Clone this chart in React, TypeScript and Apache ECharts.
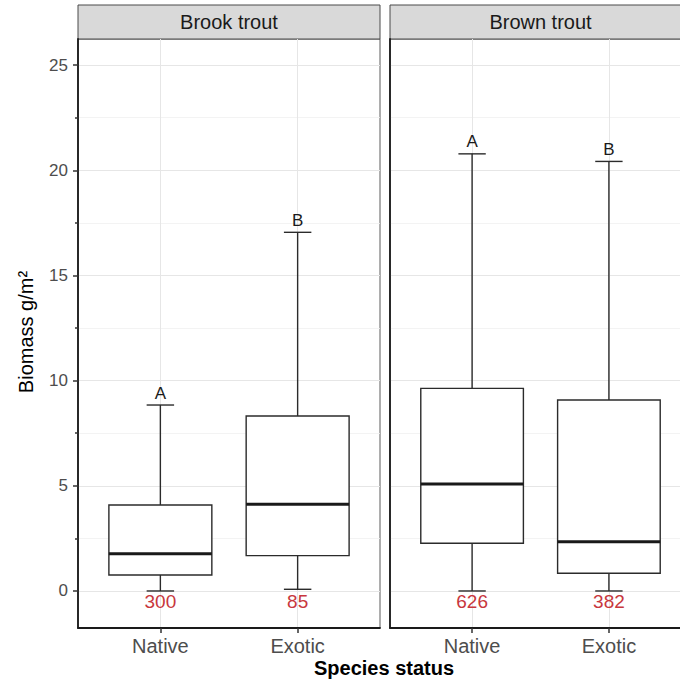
import React, { useEffect, useRef } from "react";
import * as echarts from "echarts";

// Categories on the x axis (positions 1 and 2 on a continuous scale)
const categories = ["Native", "Exotic"];
const panels = ["Brook trout", "Brown trout"];

// Box statistics per panel: [min, Q1, median, Q3, max] (biomass, g/m²)
const brookStats = [
  [0, 0.76, 1.77, 4.09, 8.84],
  [0.08, 1.68, 4.12, 8.32, 17.05],
];
const brownStats = [
  [0, 2.27, 5.09, 9.63, 20.78],
  [0, 0.84, 2.34, 9.08, 20.42],
];

// Group letters above the whiskers and sample sizes below the boxes
const brookLetters = ["A", "B"];
const brownLetters = ["A", "B"];
const brookCounts = [300, 85];
const brownCounts = [626, 382];

// Axis ticks
const yTicks = [0, 5, 10, 15, 20, 25];
const xTicks = [1, 2];
const countY = -0.5;

const FONT = "'Liberation Sans', Arial, Helvetica, sans-serif";

function makeRenderItem(letters: string[], counts: number[]) {
  return (params: any, api: any) => {
    const x = api.value(0);
    const lo = api.value(1);
    const q1 = api.value(2);
    const med = api.value(3);
    const q3 = api.value(4);
    const hi = api.value(5);
    const pLo = api.coord([x, lo]);
    const pQ1 = api.coord([x, q1]);
    const pMed = api.coord([x, med]);
    const pQ3 = api.coord([x, q3]);
    const pHi = api.coord([x, hi]);
    const pCount = api.coord([x, countY]);
    const boxW = api.size([0.75, 0])[0];
    const capW = api.size([0.2, 0])[0];
    const cx = pMed[0];
    const stroke = { stroke: "#2b2b2b", lineWidth: 1.4, fill: null };
    return {
      type: "group",
      children: [
        { type: "line", shape: { x1: cx, y1: pQ3[1], x2: cx, y2: pHi[1] }, style: stroke },
        { type: "line", shape: { x1: cx, y1: pLo[1], x2: cx, y2: pQ1[1] }, style: stroke },
        { type: "line", shape: { x1: cx - capW / 2, y1: pHi[1], x2: cx + capW / 2, y2: pHi[1] }, style: stroke },
        { type: "line", shape: { x1: cx - capW / 2, y1: pLo[1], x2: cx + capW / 2, y2: pLo[1] }, style: stroke },
        {
          type: "rect",
          shape: { x: cx - boxW / 2, y: pQ3[1], width: boxW, height: pQ1[1] - pQ3[1] },
          style: { stroke: "#2b2b2b", lineWidth: 1.4, fill: "#ffffff" },
        },
        {
          type: "line",
          shape: { x1: cx - boxW / 2, y1: pMed[1], x2: cx + boxW / 2, y2: pMed[1] },
          style: { stroke: "#1a1a1a", lineWidth: 3 },
        },
        {
          type: "text",
          x: cx,
          y: pHi[1] - 12,
          style: {
            text: letters[params.dataIndex],
            fontSize: 17,
            fontFamily: FONT,
            fill: "#1a1a1a",
            align: "center",
            verticalAlign: "middle",
          },
        },
        {
          type: "text",
          x: cx,
          y: pCount[1],
          style: {
            text: String(counts[params.dataIndex]),
            fontSize: 19,
            fontFamily: FONT,
            fill: "#c8373d",
            align: "center",
            verticalAlign: "middle",
          },
        },
      ],
    };
  };
}

export default function App() {
  const ref = useRef<HTMLDivElement>(null);

  useEffect(() => {
    if (!ref.current) return;
    const chart = echarts.init(ref.current, null, { renderer: "svg" });

    const gridTop = 39;
    const gridHeight = 589;
    const grids = [
      { left: 78, top: gridTop, width: 302, height: gridHeight },
      { left: 390, top: gridTop, width: 301, height: gridHeight },
    ].map((g) => ({
      ...g,
      show: true,
      backgroundColor: "#ffffff",
      borderColor: "#5a5a5a",
      borderWidth: 1,
    }));

    const xAxis = [0, 1].map((i) => ({
      type: "value",
      gridIndex: i,
      min: 0.4,
      max: 2.6,
      axisLine: { show: true, onZero: false, lineStyle: { color: "#1a1a1a", width: 1.8 } },
      axisTick: { show: true, customValues: xTicks, length: 5, lineStyle: { color: "#333", width: 1.5 } },
      axisLabel: {
        show: true,
        customValues: xTicks,
        formatter: (v: number) => categories[Math.round(v) - 1] ?? "",
        fontSize: 20,
        fontFamily: FONT,
        color: "#4d4d4d",
        margin: 8,
      },
      splitLine: { show: true, lineStyle: { color: "#e6e6e6", width: 1 } },
    }));

    const yAxis = [0, 1].map((i) => ({
      type: "value",
      gridIndex: i,
      min: -1.76,
      max: 26.24,
      splitNumber: 5,
      axisLine: { show: true, onZero: false, lineStyle: { color: "#1a1a1a", width: 1.8 } },
      axisTick: {
        show: i === 0,
        customValues: yTicks,
        length: 5,
        lineStyle: { color: "#333", width: 1.5 },
      },
      minorTick: { show: i === 0, splitNumber: 2, length: 3, lineStyle: { color: "#333", width: 1.5 } },
      axisLabel: {
        show: i === 0,
        customValues: yTicks,
        fontSize: 17,
        fontFamily: FONT,
        color: "#4d4d4d",
        margin: 10,
      },
      splitLine: { show: true, lineStyle: { color: "#e6e6e6", width: 1 } },
      minorSplitLine: { show: true, lineStyle: { color: "#f0f0f0", width: 0.8 } },
    }));

    const toData = (stats: number[][]) => stats.map((s, i) => [xTicks[i], ...s]);

    const strips = grids.map((g, i) => ({
      type: "group",
      children: [
        {
          type: "rect",
          shape: { x: g.left, y: 5, width: g.width, height: gridTop - 5 },
          style: { fill: "#d9d9d9", stroke: "#4a4a4a", lineWidth: 1 },
        },
        {
          type: "text",
          x: g.left + g.width / 2,
          y: 22,
          style: {
            text: panels[i],
            fontSize: 20,
            fontFamily: FONT,
            fill: "#1a1a1a",
            align: "center",
            verticalAlign: "middle",
          },
        },
      ],
    }));

    chart.setOption({
      animation: false,
      backgroundColor: "#ffffff",
      grid: grids,
      xAxis,
      yAxis,
      graphic: [
        ...strips,
        {
          type: "text",
          x: 384,
          y: 668,
          style: {
            text: "Species status",
            fontSize: 20,
            fontWeight: "bold",
            fontFamily: FONT,
            fill: "#000000",
            align: "center",
            verticalAlign: "middle",
          },
        },
        {
          type: "text",
          x: 26,
          y: 332,
          rotation: Math.PI / 2,
          style: {
            text: "Biomass g/m²",
            fontSize: 20,
            fontFamily: FONT,
            fill: "#000000",
            align: "center",
            verticalAlign: "middle",
          },
        },
      ],
      series: [
        {
          type: "custom",
          xAxisIndex: 0,
          yAxisIndex: 0,
          encode: { x: 0, y: [1, 2, 3, 4, 5] },
          data: toData(brookStats),
          renderItem: makeRenderItem(brookLetters, brookCounts),
          clip: false,
        },
        {
          type: "custom",
          xAxisIndex: 1,
          yAxisIndex: 1,
          encode: { x: 0, y: [1, 2, 3, 4, 5] },
          data: toData(brownStats),
          renderItem: makeRenderItem(brownLetters, brownCounts),
          clip: false,
        },
      ],
    });

    return () => chart.dispose();
  }, []);

  // The second facet runs past the right edge; the outer box crops it.
  return (
    <div style={{ position: "absolute", left: 0, top: 0, width: 680, height: 682, overflow: "hidden" }}>
      <div ref={ref} style={{ width: 700, height: 682 }} />
    </div>
  );
}
